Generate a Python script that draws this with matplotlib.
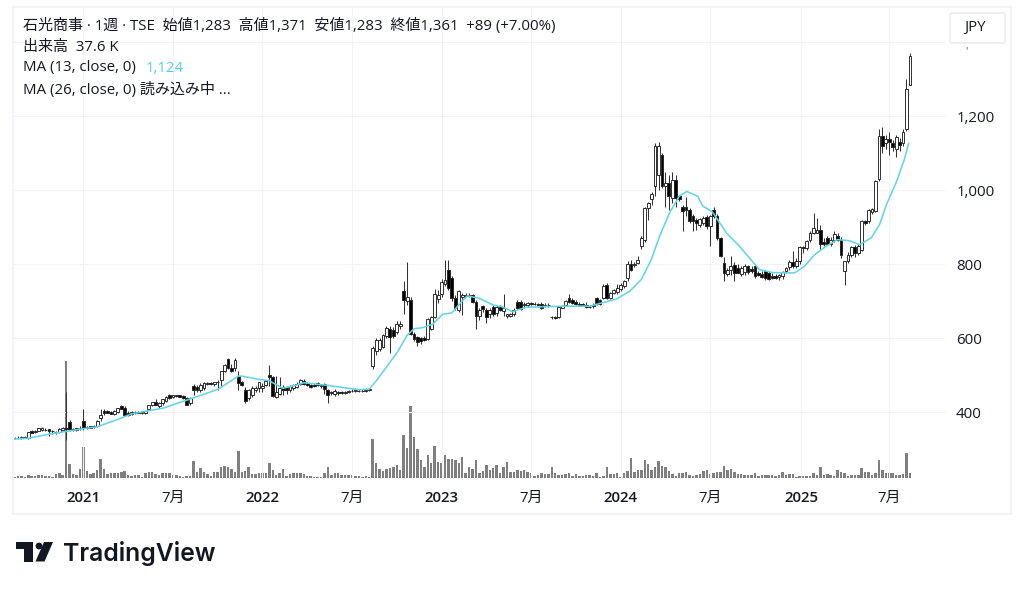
import matplotlib
matplotlib.use("Agg")
import matplotlib.pyplot as plt
from matplotlib.patches import Circle, FancyBboxPatch, Polygon, Rectangle

plt.rcParams['font.family'] = ['Open Sans', 'Noto Sans CJK JP', 'DejaVu Sans']

# weekly candles, one entry per week
opens = [330, 331, 330, 332, 331, 350, 346, 350, 352, 352,
         353, 350, 347, 345, 352, 356, 372, 354, 352, 356,
         377, 356, 358, 360, 362, 383, 404, 402, 400, 394,
         400, 415, 412, 396, 395, 398, 399, 398, 396, 408,
         418, 428, 415, 424, 430, 446, 440, 442, 445, 443,
         437, 423, 470, 468, 460, 464, 476, 478, 477, 480,
         486, 512, 542, 520, 518, 497, 480, 460, 437, 446,
         460, 464, 466, 473, 500, 494, 440, 450, 468, 467,
         459, 464, 468, 476, 484, 479, 472, 474, 479, 470,
         475, 460, 452, 450, 454, 455, 452, 455, 456, 458,
         458, 456, 458, 460, 525, 566, 571, 575, 605, 625,
         622, 616, 633, 728, 700, 703, 610, 603, 600, 600,
         598, 625, 657, 705, 720, 745, 783, 762, 707, 677,
         712, 714, 714, 716, 698, 660, 686, 675, 665, 684,
         668, 686, 672, 659, 660, 665, 698, 698, 688, 690,
         694, 693, 692, 692, 687, 688, 658, 658, 657, 682,
         690, 708, 702, 697, 692, 692, 690, 685, 686, 708,
         702, 708, 744, 708, 722, 725, 733, 740, 762, 801,
         796, 804, 848, 866, 951, 975, 1010, 1041, 1095, 1011,
         1020, 978, 1028, 983, 955, 954, 947, 930, 920, 906,
         911, 927, 902, 947, 931, 870, 804, 774, 785, 798,
         788, 773, 778, 794, 787, 794, 775, 772, 780, 776,
         768, 768, 764, 767, 780, 792, 805, 794, 807, 846,
         843, 864, 884, 885, 893, 860, 870, 855, 866, 875,
         866, 780, 807, 825, 846, 830, 839, 916, 916, 940,
         943, 1030, 1145, 1127, 1139, 1126, 1112, 1130, 1127, 1165,
         1283]
highs = [332, 334, 334, 335, 346, 352, 352, 358, 360, 356,
         355, 352, 350, 356, 360, 455, 378, 358, 358, 362,
         407, 362, 363, 365, 378, 407, 408, 405, 404, 405,
         412, 420, 415, 404, 403, 403, 402, 402, 404, 420,
         428, 434, 426, 436, 442, 448, 447, 446, 447, 446,
         440, 440, 477, 472, 478, 482, 482, 480, 482, 486,
         512, 530, 545, 530, 545, 512, 484, 468, 462, 470,
         470, 482, 478, 485, 527, 498, 497, 495, 472, 470,
         472, 476, 480, 490, 488, 482, 476, 478, 480, 476,
         478, 462, 458, 462, 458, 458, 458, 460, 462, 464,
         462, 462, 464, 465, 578, 600, 600, 612, 632, 632,
         630, 645, 647, 753, 805, 712, 615, 606, 604, 606,
         655, 660, 733, 730, 760, 812, 812, 768, 715, 730,
         722, 722, 722, 720, 702, 680, 690, 680, 682, 690,
         688, 690, 719, 666, 668, 680, 702, 702, 696, 698,
         698, 696, 695, 696, 694, 694, 660, 660, 685, 690,
         704, 718, 708, 702, 697, 695, 696, 690, 695, 712,
         706, 746, 748, 724, 733, 745, 748, 757, 808, 810,
         805, 822, 875, 955, 968, 995, 1127, 1130, 1100, 1050,
         1040, 1050, 1040, 986, 960, 980, 952, 935, 925, 925,
         930, 932, 932, 955, 935, 873, 820, 790, 821, 805,
         800, 795, 800, 798, 795, 800, 782, 780, 785, 780,
         775, 772, 774, 782, 792, 812, 835, 815, 850, 850,
         865, 888, 937, 925, 905, 870, 875, 872, 888, 885,
         872, 807, 832, 850, 852, 855, 918, 920, 950, 952,
         1026, 1165, 1170, 1150, 1158, 1135, 1148, 1140, 1165, 1300,
         1371]
lows = [326, 328, 327, 329, 328, 342, 344, 348, 350, 349,
        335, 340, 340, 343, 350, 325, 350, 350, 350, 352,
        351, 353, 356, 358, 360, 377, 392, 396, 394, 392,
        398, 408, 392, 390, 393, 395, 396, 395, 394, 405,
        415, 418, 412, 420, 428, 436, 438, 440, 440, 436,
        418, 420, 446, 455, 455, 460, 472, 472, 470, 460,
        470, 508, 515, 508, 512, 459, 470, 425, 432, 440,
        455, 455, 455, 470, 470, 440, 438, 445, 445, 448,
        455, 460, 464, 472, 474, 470, 466, 468, 470, 466,
        450, 423, 445, 444, 446, 450, 449, 452, 453, 455,
        454, 453, 455, 457, 516, 555, 566, 572, 600, 560,
        600, 610, 625, 666, 690, 608, 592, 578, 585, 592,
        595, 622, 655, 695, 712, 740, 730, 700, 675, 670,
        662, 710, 710, 695, 625, 650, 670, 640, 655, 660,
        660, 672, 660, 655, 657, 660, 678, 675, 680, 685,
        690, 688, 685, 678, 684, 684, 652, 652, 655, 680,
        688, 695, 692, 688, 688, 686, 682, 680, 682, 690,
        690, 705, 706, 705, 718, 720, 728, 735, 755, 780,
        792, 800, 840, 860, 920, 960, 985, 1000, 1005, 955,
        945, 965, 955, 970, 890, 930, 910, 888, 892, 900,
        905, 895, 850, 925, 865, 818, 753, 768, 770, 753,
        775, 768, 770, 772, 775, 762, 768, 762, 758, 758,
        760, 760, 758, 760, 775, 785, 790, 788, 800, 830,
        838, 860, 880, 885, 840, 850, 852, 850, 860, 862,
        815, 744, 803, 820, 820, 825, 835, 905, 912, 935,
        940, 1025, 1100, 1110, 1095, 1105, 1090, 1105, 1120, 1160,
        1283]
closes = [331, 330, 332, 331, 345, 344, 350, 356, 357, 351,
          348, 348, 345, 353, 358, 354, 354, 352, 356, 358,
          356, 359, 361, 362, 376, 392, 396, 397, 395, 403,
          410, 408, 393, 392, 400, 400, 398, 399, 402, 419,
          426, 420, 423, 434, 440, 438, 445, 445, 441, 437,
          420, 438, 460, 459, 473, 478, 478, 475, 480, 482,
          512, 528, 518, 510, 540, 478, 472, 430, 459, 464,
          464, 480, 470, 485, 494, 443, 455, 464, 459, 459,
          470, 473, 477, 486, 477, 473, 468, 470, 473, 474,
          461, 446, 454, 456, 452, 452, 455, 456, 458, 458,
          456, 458, 460, 462, 573, 594, 594, 607, 628, 604,
          605, 637, 637, 703, 710, 610, 598, 589, 592, 594,
          651, 657, 720, 716, 752, 757, 735, 707, 680, 728,
          716, 716, 717, 698, 659, 675, 679, 657, 677, 665,
          684, 677, 680, 664, 665, 675, 680, 678, 692, 695,
          693, 692, 690, 680, 690, 690, 656, 655, 685, 686,
          701, 698, 695, 692, 690, 690, 685, 683, 690, 693,
          693, 740, 708, 722, 731, 735, 744, 753, 800, 783,
          801, 812, 870, 951, 965, 990, 1118, 1118, 1010, 1020,
          983, 1028, 978, 975, 942, 947, 915, 915, 911, 921,
          924, 902, 929, 930, 870, 821, 776, 785, 794, 776,
          777, 790, 794, 778, 780, 767, 770, 766, 762, 760,
          762, 762, 770, 778, 789, 805, 794, 808, 846, 842,
          861, 884, 898, 893, 855, 855, 855, 866, 880, 866,
          823, 807, 825, 846, 830, 848, 916, 910, 947, 950,
          1024, 1145, 1119, 1137, 1130, 1117, 1142, 1121, 1156, 1273,
          1361]
# thousands of shares
volumes = [7, 12, 12, 7, 21, 16, 12, 21, 21, 14,
           14, 7, 28, 38, 19, 825, 99, 28, 24, 63,
           219, 52, 31, 35, 54, 134, 63, 28, 33, 38,
           38, 40, 52, 24, 12, 21, 19, 7, 33, 40,
           45, 26, 24, 33, 38, 35, 24, 19, 14, 7,
           14, 16, 122, 40, 73, 40, 28, 12, 40, 42,
           80, 82, 78, 63, 42, 193, 42, 49, 78, 28,
           28, 35, 35, 38, 108, 56, 19, 35, 66, 12,
           28, 38, 33, 38, 28, 14, 12, 9, 9, 7,
           38, 78, 19, 35, 38, 24, 19, 24, 19, 12,
           14, 7, 14, 9, 273, 106, 63, 52, 63, 70,
           75, 94, 54, 301, 212, 505, 287, 207, 127, 80,
           160, 106, 226, 110, 103, 160, 136, 132, 127, 103,
           146, 38, 75, 63, 129, 33, 47, 94, 56, 70,
           94, 35, 80, 115, 40, 42, 59, 47, 59, 40,
           38, 14, 19, 33, 28, 28, 80, 33, 24, 24,
           28, 38, 14, 26, 16, 16, 19, 21, 12, 38,
           7, 14, 75, 28, 28, 33, 9, 33, 52, 141,
           45, 59, 59, 127, 99, 56, 80, 118, 87, 80,
           47, 26, 14, 35, 35, 40, 19, 12, 24, 31,
           47, 59, 28, 35, 42, 42, 87, 59, 66, 40,
           31, 28, 24, 24, 24, 33, 16, 24, 19, 19,
           21, 16, 24, 42, 19, 28, 28, 9, 12, 12,
           16, 16, 38, 24, 75, 24, 28, 19, 12, 59,
           40, 35, 12, 19, 24, 24, 70, 42, 42, 19,
           35, 129, 59, 38, 35, 35, 19, 24, 28, 176,
           37.6]
# MA (13) at these weeks
ma_weeks = [0, 4, 10, 20, 24, 30, 34, 38, 43, 50, 59, 65, 66, 71, 74, 75, 78, 82, 84, 90, 94,
            100, 103, 105.2, 111.2, 114, 116, 118.5, 121.4, 124.3, 127, 129.8, 131.5, 135, 139,
            141.7, 144.6, 148.5, 154.4, 160, 167, 171.8, 174.7, 178.6, 182, 184.9, 187.3, 190.2,
            193, 195.2, 198.4, 199.8, 202.7, 206.7, 210.5, 213.4, 216.3, 220, 224, 226.5, 229.4,
            232.3, 235.7, 239, 242.4, 245.4, 248.8, 251.2, 253.2, 256, 258.4, 259.6]
ma_values = [327, 329, 340, 355, 360, 380, 395, 402, 410, 432, 461, 497, 497, 488, 485, 479, 464, 473, 479, 473, 468,
             460, 462, 486, 562, 607, 625, 628, 637, 664, 668, 698, 714, 707, 689,
             684, 671, 683, 685, 686, 686, 698, 705, 726, 758, 812, 875, 938,
             983, 996, 983, 957, 940, 884, 848, 816, 785, 777, 776, 776, 794,
             825, 848, 866, 863, 852, 871, 907, 961, 1020, 1083, 1126]

price_ticks = [400, 600, 800, 1000, 1200, 1400]
price_labels = ['400', '600', '800', '1,000', '1,200', '']
date_ticks = [20, 46, 72, 98, 124, 150, 176, 202, 228.5, 254]
date_labels = ['2021', '7月', '2022', '7月', '2023', '7月', '2024', '7月', '2025', '7月']

W, H = 1024, 590
fig = plt.figure(figsize=(W / 100, H / 100), dpi=100, facecolor='white')

def fx(x):
    return x / W

def fy(y):
    return 1 - y / H

LEFT, RIGHT, TOP, BOTTOM = 13.5, 945, 8, 478
ax = fig.add_axes([fx(LEFT), fy(BOTTOM), fx(RIGHT - LEFT), (BOTTOM - TOP) / H])
vol_ax = ax.twinx()
ax.set_zorder(vol_ax.get_zorder() + 1)
ax.patch.set_visible(False)

weeks = list(range(len(closes)))
X0, STEP = 14.5, 3.444
ax.set_xlim((LEFT - X0) / STEP, (RIGHT - X0) / STEP)
ax.set_ylim(400 - (BOTTOM - 412) / 0.37, 400 + (412 - TOP) / 0.37)
vol_ax.set_ylim(0, (BOTTOM - TOP) * 7.05)

ax.set_xticks(date_ticks)
ax.set_xticklabels(date_labels)
ax.set_yticks(price_ticks)
ax.set_yticklabels(price_labels)
ax.tick_params(length=0, labelcolor='#131722')
ax.tick_params(axis='x', labelsize=10.8, pad=9)
ax.tick_params(axis='y', labelleft=False, labelright=True, labelsize=10.8, pad=8)
for lab in ax.get_yticklabels():
    lab.set_horizontalalignment('left')
for lab in ax.get_xticklabels():
    if lab.get_text() != '7月':
        lab.set_fontweight('semibold')
ax.grid(True, color='#f2f3f6', lw=0.8)
ax.set_axisbelow(True)
vol_ax.set_yticks([])
for a in (ax, vol_ax):
    for s in a.spines.values():
        s.set_visible(False)

vol_ax.bar(weeks, volumes, width=0.72, color='#7f7f7f', lw=0)

ax.vlines(weeks, lows, highs, color='#333333', lw=0.75, zorder=3)
body_low = [min(o, c) for o, c in zip(opens, closes)]
body_h = [max(abs(c - o), 1) for o, c in zip(opens, closes)]
face = ['black' if c < o else 'white' for o, c in zip(opens, closes)]
ax.bar(weeks, body_h, bottom=body_low, width=0.82, color=face, edgecolor='#222222', lw=0.65, zorder=4)
ax.plot(ma_weeks, ma_values, color='#62d6e6', lw=1.15, zorder=5)

# outer frame of the widget
fig.add_artist(Rectangle((fx(13), fy(514)), fx(998), 507 / H, fill=False, ec='#eff1f5', lw=1.1, transform=fig.transFigure))

# legend lines top left
TXT = '#131722'
FS = 10.8
fig.text(fx(23), fy(26), '石光商事 · 1週 · TSE  始値1,283  高値1,371  安値1,283  終値1,361  +89 (+7.00%)',
         fontsize=FS, color=TXT, va='center')
fig.text(fx(23), fy(47), '出来高  37.6 K', fontsize=FS, color=TXT, va='center')
fig.text(fx(23), fy(68), 'MA (13, close, 0)', fontsize=FS, color=TXT, va='center')
fig.text(fx(146), fy(68), '1,124', fontsize=FS, color='#4fd0e6', va='center')
fig.text(fx(23), fy(90), 'MA (26, close, 0) 読み込み中 ...', fontsize=FS, color=TXT, va='center')

# currency button, covers the 1,400 label except its comma
fig.add_artist(FancyBboxPatch((fx(952), fy(41)), fx(51), 26 / H, boxstyle='round,pad=0.002', fc='white', ec='#e6e8ee',
                              lw=0.9, transform=fig.transFigure, mutation_aspect=W / H))
fig.text(fx(975), fy(27), 'JPY', fontsize=FS, color=TXT, ha='center', va='center')
fig.text(fx(967), fy(47), ',', fontsize=8, color='#777777', ha='center', va='center')

# TradingView wordmark
LOGO = '#131722'
fig.add_artist(Polygon([(fx(15.5), fy(542)), (fx(33), fy(542)), (fx(33), fy(561.5)), (fx(23.5), fy(561.5)), (fx(23.5), fy(549)), (fx(15.5), fy(549))],
                       closed=True, fc=LOGO, ec='none', transform=fig.transFigure))
fig.add_artist(Polygon([(fx(44), fy(542)), (fx(53), fy(542)), (fx(44.5), fy(561.5)), (fx(35.5), fy(561.5))],
                       closed=True, fc=LOGO, ec='none', transform=fig.transFigure))
fig.add_artist(Circle((39, 590 - 546), 3.4, fc=LOGO, ec='none', transform=None))
fig.text(fx(63), fy(553), 'TradingView', family=['Inter', 'DejaVu Sans'], fontsize=17.8, fontweight='semibold',
         color=LOGO, va='center')

fig.savefig('out.png', dpi=100)
